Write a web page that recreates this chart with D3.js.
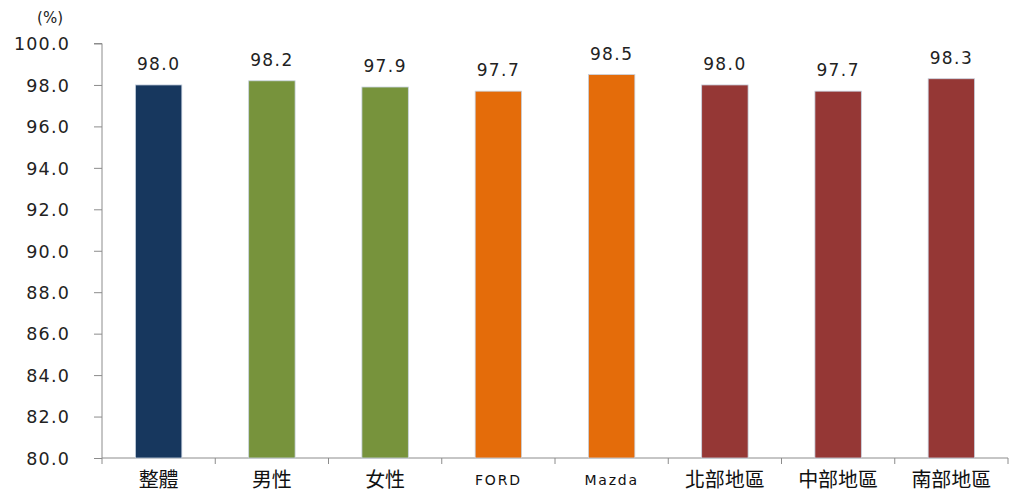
<!DOCTYPE html>
<html><head><meta charset="utf-8">
<script src="https://cdn.jsdelivr.net/npm/d3@7"></script>
<style>body{margin:0;background:#fff;}svg{display:block;}</style>
</head><body>
<svg id="c" width="1010" height="492"></svg>
<script>
const categories = ["整體","男性","女性","FORD","Mazda","北部地區","中部地區","南部地區"];
const values = [98.0, 98.2, 97.9, 97.7, 98.5, 98.0, 97.7, 98.3];
const colors = ["#17375E","#77933C","#77933C","#E46C0A","#E46C0A","#953735","#953735","#953735"];
const yTicks = [80,82,84,86,88,90,92,94,96,98,100];

(function(){
const svg = d3.select("#c");
const mLeft = 102, mRight = 1008, mTop = 43.5, mBottom = 458;
const x = d3.scaleBand().domain(categories).range([mLeft, mRight]).paddingInner(0.59).paddingOuter(0.295);
const y = d3.scaleLinear().domain([80,100]).range([mBottom, mTop]);
const font = "'DejaVu Sans', Verdana, sans-serif";

// y axis
const ya = svg.append("g").attr("transform",`translate(${mLeft},0)`)
  .call(d3.axisLeft(y).tickValues(yTicks).tickFormat(d3.format(".1f")).tickSize(8).tickPadding(24));
ya.select(".domain").attr("stroke","#8c8c8c").attr("d",`M-8,${mTop}H0V${mBottom}`);
ya.selectAll(".tick line").attr("stroke","#8c8c8c");
ya.selectAll(".tick text").attr("font-family",font).attr("font-size",17.5)
  .attr("letter-spacing",1.2).attr("fill","#222").attr("dy","0.36em");

// x axis
const xa = svg.append("g").attr("transform",`translate(0,${mBottom})`);
xa.append("line").attr("x1",mLeft).attr("x2",mRight).attr("y1",0).attr("y2",0).attr("stroke","#8c8c8c");
d3.range(categories.length+1).forEach(i=>{
  const xx = mLeft + i*(mRight-mLeft)/categories.length;
  xa.append("line").attr("x1",xx).attr("x2",xx).attr("y1",0).attr("y2",6).attr("stroke","#8c8c8c");
});

// bars
svg.selectAll("rect.bar").data(values).enter().append("rect").attr("class","bar")
  .attr("x",(d,i)=>x(categories[i])).attr("width",x.bandwidth())
  .attr("y",d=>y(d)).attr("height",d=>mBottom-y(d))
  .attr("fill",(d,i)=>colors[i]).attr("stroke","#c8d3e0").attr("stroke-width",0.8);

// value labels
svg.selectAll("text.val").data(values).enter().append("text").attr("class","val")
  .attr("x",(d,i)=>x(categories[i])+x.bandwidth()/2).attr("y",d=>y(d)-15)
  .attr("text-anchor","middle").attr("font-family",font).attr("font-size",17)
  .attr("letter-spacing",1.4).attr("fill","#222")
  .text(d=>d3.format(".1f")(d));

// category labels
const isLatin = d => /^[A-Za-z]/.test(d);
svg.selectAll("text.cat").data(categories).enter().append("text").attr("class","cat")
  .attr("x",d=>x(d)+x.bandwidth()/2).attr("y",d=>isLatin(d)? 485 : 487)
  .attr("text-anchor","middle")
  .attr("font-family",d=>isLatin(d)? font : "'Noto Sans CJK TC', sans-serif")
  .attr("font-size",d=>isLatin(d)? 14 : 20)
  .attr("letter-spacing",d=>isLatin(d)? 1.8 : 0)
  .attr("font-weight","normal")
  .attr("fill","#111").text(d=>d);

// unit
svg.append("text").attr("x",63).attr("y",23).attr("text-anchor","end")
  .attr("font-family",font).attr("font-size",15).attr("fill","#222").text("(%)");
})();
</script>
</body></html>
